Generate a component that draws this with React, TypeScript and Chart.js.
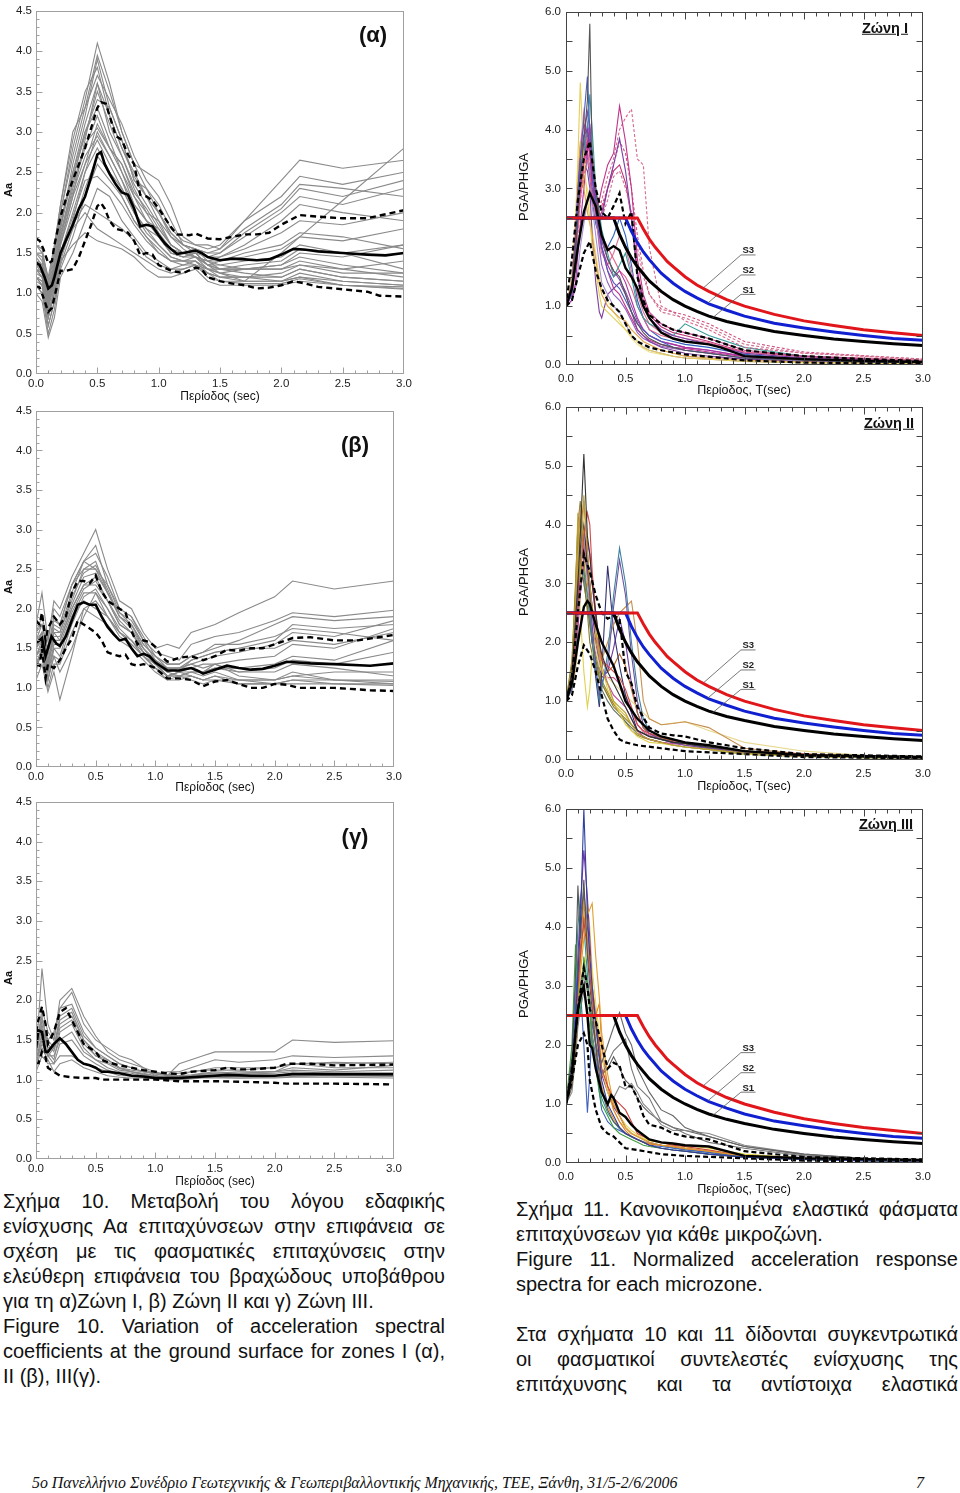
import React, { useEffect, useRef } from "react";
import { Chart, registerables } from "chart.js";

Chart.register(...registerables);

type Pt = [number, number];

// ---------- shared x grids ----------
const XG = [0, 0.05, 0.1, 0.15, 0.2, 0.3, 0.4, 0.5, 0.6, 0.7, 0.8, 0.9, 1.0, 1.1, 1.2, 1.3, 1.4, 1.5, 1.7, 2.0, 2.15, 2.5, 3.0];
const XR = [0, 0.05, 0.08, 0.1, 0.12, 0.15, 0.18, 0.2, 0.22, 0.25, 0.28, 0.3, 0.35, 0.4, 0.45, 0.5, 0.55, 0.6, 0.65, 0.7, 0.8, 0.9, 1.0, 1.2, 1.5, 2.0, 2.5, 3.0];

const X_TICKS = [0, 0.5, 1.0, 1.5, 2.0, 2.5, 3.0];
const AA_TICKS = [0, 0.5, 1.0, 1.5, 2.0, 2.5, 3.0, 3.5, 4.0, 4.5];
const PGA_TICKS = [0, 1.0, 2.0, 3.0, 4.0, 5.0, 6.0];

// ---------- (α) Zone I amplification ----------
const alphaMean: Pt[] = [[0,1.38],[0.03,1.35],[0.07,1.2],[0.1,1.06],[0.13,1.1],[0.15,1.2],[0.2,1.5],[0.25,1.68],[0.3,1.85],[0.35,2.05],[0.4,2.2],[0.45,2.45],[0.5,2.72],[0.53,2.75],[0.56,2.6],[0.6,2.48],[0.65,2.35],[0.7,2.25],[0.75,2.22],[0.8,2.05],[0.85,1.83],[0.9,1.85],[0.95,1.83],[1.0,1.72],[1.05,1.62],[1.1,1.55],[1.15,1.49],[1.2,1.5],[1.3,1.53],[1.35,1.5],[1.4,1.45],[1.5,1.41],[1.6,1.43],[1.7,1.42],[1.8,1.41],[1.9,1.42],[2.0,1.48],[2.1,1.55],[2.2,1.54],[2.3,1.52],[2.5,1.5],[2.7,1.48],[2.85,1.47],[3.0,1.5]];
const alphaUpper: Pt[] = [[0,1.68],[0.03,1.65],[0.06,1.55],[0.1,1.37],[0.13,1.4],[0.15,1.6],[0.2,1.95],[0.25,2.2],[0.3,2.4],[0.35,2.6],[0.4,2.8],[0.45,3.05],[0.5,3.3],[0.53,3.37],[0.57,3.35],[0.6,3.2],[0.65,2.95],[0.7,2.9],[0.75,2.72],[0.8,2.6],[0.85,2.22],[0.9,2.2],[0.95,2.15],[1.0,2.05],[1.1,1.82],[1.15,1.73],[1.25,1.72],[1.3,1.74],[1.4,1.68],[1.5,1.67],[1.6,1.7],[1.7,1.73],[1.8,1.73],[1.9,1.75],[2.0,1.85],[2.1,1.93],[2.15,1.97],[2.3,1.95],[2.5,1.93],[2.7,1.93],[2.85,1.98],[3.0,2.03]];
const alphaLower: Pt[] = [[0,1.1],[0.03,1.07],[0.06,0.95],[0.1,0.77],[0.13,0.82],[0.15,0.95],[0.2,1.28],[0.25,1.28],[0.3,1.3],[0.35,1.45],[0.4,1.65],[0.45,1.85],[0.5,2.08],[0.53,2.12],[0.56,2.05],[0.6,1.9],[0.65,1.8],[0.7,1.78],[0.75,1.75],[0.8,1.65],[0.85,1.47],[0.9,1.5],[0.95,1.48],[1.0,1.35],[1.1,1.28],[1.2,1.25],[1.3,1.32],[1.35,1.3],[1.4,1.2],[1.5,1.15],[1.6,1.12],[1.7,1.1],[1.8,1.06],[1.9,1.07],[2.0,1.1],[2.1,1.15],[2.2,1.12],[2.3,1.08],[2.5,1.05],[2.7,1.02],[2.8,0.97],[3.0,0.96]];
const alphaRecords: number[][] = [
  [1.6,1.5,1.1,1.5,2.0,2.8,3.4,4.1,3.6,3.0,2.6,2.5,2.4,2.1,1.7,1.6,1.6,1.55,1.9,2.4,2.65,2.55,2.65],
  [1.4,1.3,0.9,1.3,1.8,2.6,3.2,3.9,3.3,2.9,2.4,2.3,2.1,1.8,1.65,1.6,1.55,1.6,1.9,2.2,2.45,2.35,2.5],
  [1.3,1.2,0.7,1.1,1.6,2.2,2.9,3.6,3.0,2.7,2.3,2.0,1.9,1.7,1.6,1.55,1.5,1.5,1.7,2.0,2.2,2.1,2.3],
  [1.5,1.4,1.0,1.4,1.9,2.5,3.0,3.3,2.9,2.5,2.2,1.9,1.8,1.6,1.5,1.55,1.4,1.45,1.55,1.75,1.9,1.85,2.0],
  [1.2,1.1,0.6,0.9,1.4,1.9,2.5,3.0,2.7,2.4,2.0,1.8,1.7,1.5,1.45,1.5,1.35,1.4,1.45,1.55,1.7,1.65,1.8],
  [1.1,1.0,0.5,0.8,1.3,1.7,2.2,2.6,2.4,2.2,1.9,1.7,1.5,1.4,1.4,1.45,1.3,1.3,1.3,1.35,1.5,1.45,1.6],
  [1.0,0.9,0.45,0.7,1.2,1.5,1.9,2.3,2.2,1.9,1.7,1.5,1.4,1.3,1.35,1.35,1.25,1.2,1.2,1.25,1.35,1.3,1.4],
  [1.3,1.2,0.8,1.2,1.7,2.3,2.8,3.2,2.8,2.6,2.2,2.0,1.75,1.55,1.5,1.5,1.35,1.3,1.25,1.2,1.3,1.2,1.15],
  [1.4,1.3,0.9,1.3,1.5,1.8,2.0,1.8,1.7,1.6,1.5,1.4,1.3,1.25,1.3,1.35,1.2,1.15,1.15,1.15,1.2,1.15,1.1],
  [1.2,1.1,0.7,1.0,1.4,1.6,1.75,1.65,1.6,1.55,1.45,1.3,1.2,1.2,1.25,1.3,1.15,1.1,1.1,1.1,1.15,1.1,1.05],
  [1.5,1.5,1.2,1.6,2.1,2.9,3.5,3.8,3.2,2.8,2.5,2.2,1.9,1.6,1.5,1.45,1.4,1.3,1.35,1.4,1.55,1.5,1.3],
  [1.3,1.25,0.9,1.2,1.7,2.4,3.0,3.4,3.3,2.9,2.4,2.2,2.0,1.7,1.55,1.45,1.35,1.25,1.3,1.3,1.4,1.3,1.2],
  [1.35,1.25,0.85,1.25,1.65,2.2,2.6,2.9,2.6,2.3,2.0,1.8,1.6,1.45,1.4,1.35,1.3,1.25,1.15,1.5,1.7,2.15,2.8],
  [1.2,1.15,0.85,1.1,1.5,2.0,2.5,2.8,2.5,2.2,1.9,1.7,1.55,1.4,1.35,1.4,1.3,1.2,1.2,1.15,1.25,1.15,1.1],
  [1.5,1.45,1.05,1.45,2.0,2.7,3.3,3.7,3.4,3.1,2.7,2.4,2.2,1.9,1.6,1.5,1.45,1.5,1.75,2.05,2.3,2.2,2.4],
  [1.6,1.55,1.15,1.55,2.1,3.0,3.3,3.95,3.5,3.0,2.6,2.3,2.0,1.75,1.6,1.55,1.5,1.55,1.8,2.1,2.35,2.3,2.2],
  [1.25,1.2,0.8,1.15,1.6,2.1,2.6,3.1,2.8,2.5,2.1,1.9,1.7,1.5,1.45,1.5,1.35,1.35,1.4,1.45,1.6,1.5,1.6],
  [1.45,1.35,0.95,1.35,1.85,2.45,2.95,3.5,3.1,2.7,2.35,2.1,1.85,1.6,1.5,1.45,1.4,1.35,1.3,1.3,1.35,1.25,1.25],
  [1.1,1.0,0.6,0.9,1.35,1.8,2.3,2.7,2.5,2.3,2.0,1.75,1.6,1.45,1.4,1.4,1.3,1.25,1.2,1.2,1.3,1.2,1.15],
  [1.35,1.3,0.95,1.3,1.75,2.35,2.85,3.05,2.8,2.6,2.25,2.05,1.8,1.6,1.5,1.45,1.4,1.4,1.5,1.6,1.75,1.7,1.55],
  [1.2,1.15,0.75,1.05,1.5,1.95,2.4,2.45,2.3,2.1,1.85,1.65,1.5,1.4,1.4,1.4,1.25,1.2,1.15,1.15,1.2,1.1,1.08],
  [1.4,1.35,1.0,1.35,1.8,2.5,3.1,3.6,3.2,2.8,2.45,2.2,2.0,1.75,1.6,1.55,1.45,1.45,1.6,1.9,2.1,2.0,1.9],
  [1.3,1.25,0.9,1.25,1.7,2.25,2.7,2.95,2.7,2.4,2.1,1.9,1.7,1.5,1.45,1.45,1.35,1.3,1.3,1.35,1.45,1.35,1.25],
  [1.15,1.1,0.7,1.0,1.45,1.85,2.1,2.0,1.9,1.8,1.65,1.45,1.35,1.3,1.3,1.35,1.25,1.15,1.12,1.12,1.18,1.1,1.06],
];

// ---------- (β) Zone II amplification ----------
const betaMean: Pt[] = [[0,1.57],[0.03,1.6],[0.05,1.63],[0.08,1.4],[0.1,1.5],[0.13,1.65],[0.17,1.56],[0.2,1.53],[0.25,1.65],[0.3,1.85],[0.35,2.05],[0.4,2.08],[0.45,2.05],[0.5,2.05],[0.55,1.9],[0.6,1.77],[0.65,1.68],[0.7,1.6],[0.75,1.62],[0.8,1.5],[0.85,1.4],[0.9,1.43],[0.95,1.4],[1.0,1.32],[1.05,1.27],[1.1,1.22],[1.2,1.22],[1.3,1.25],[1.35,1.22],[1.4,1.18],[1.5,1.23],[1.6,1.28],[1.7,1.25],[1.8,1.23],[1.9,1.24],[2.0,1.28],[2.1,1.33],[2.3,1.31],[2.5,1.3],[2.8,1.28],[3.0,1.31]];
const betaUpper: Pt[] = [[0,1.85],[0.03,1.8],[0.05,1.95],[0.08,1.6],[0.1,1.75],[0.15,1.9],[0.2,1.8],[0.25,1.9],[0.3,2.2],[0.35,2.35],[0.4,2.35],[0.45,2.32],[0.5,2.42],[0.55,2.22],[0.6,2.1],[0.65,2.05],[0.7,2.0],[0.75,1.95],[0.8,1.72],[0.85,1.55],[0.9,1.6],[0.95,1.58],[1.0,1.52],[1.05,1.4],[1.1,1.33],[1.2,1.38],[1.3,1.4],[1.4,1.35],[1.5,1.4],[1.6,1.48],[1.7,1.47],[1.8,1.5],[1.9,1.5],[2.0,1.55],[2.15,1.63],[2.3,1.64],[2.5,1.6],[2.7,1.6],[3.0,1.67]];
const betaLower: Pt[] = [[0,1.3],[0.03,1.28],[0.05,1.5],[0.08,1.12],[0.1,1.3],[0.15,1.25],[0.2,1.35],[0.25,1.5],[0.3,1.62],[0.35,1.85],[0.4,1.8],[0.45,1.75],[0.5,1.7],[0.55,1.6],[0.6,1.45],[0.65,1.42],[0.7,1.4],[0.75,1.42],[0.8,1.3],[0.85,1.28],[0.9,1.3],[0.95,1.28],[1.0,1.25],[1.1,1.12],[1.2,1.12],[1.3,1.1],[1.4,1.02],[1.5,1.08],[1.6,1.1],[1.7,1.05],[1.8,1.0],[1.9,1.0],[2.0,1.05],[2.1,1.04],[2.2,1.0],[2.5,1.0],[2.8,0.97],[3.0,0.96]];
const betaRecords: number[][] = [
  [1.7,1.9,1.6,2.1,2.0,2.4,2.7,3.0,2.5,2.1,2.0,1.7,1.5,1.55,1.5,1.7,1.75,1.8,1.95,2.15,2.35,2.25,2.35],
  [1.6,1.8,1.5,1.9,1.8,2.3,2.6,2.7,2.4,2.0,1.9,1.6,1.45,1.4,1.35,1.55,1.6,1.65,1.7,1.85,1.95,1.9,1.98],
  [1.5,1.7,1.2,1.7,1.7,2.1,2.5,2.5,2.2,1.9,1.8,1.55,1.4,1.3,1.3,1.4,1.45,1.5,1.6,1.8,1.9,1.85,1.9],
  [1.4,1.6,1.3,1.6,1.6,2.0,2.3,2.4,2.1,1.8,1.7,1.5,1.35,1.25,1.25,1.3,1.35,1.4,1.45,1.55,1.7,1.65,1.85],
  [1.3,1.5,1.1,1.5,1.4,1.9,2.2,2.2,2.0,1.7,1.6,1.45,1.3,1.2,1.25,1.25,1.3,1.3,1.35,1.4,1.55,1.5,1.75],
  [1.1,1.3,0.95,1.2,0.85,1.4,2.0,2.1,1.9,1.65,1.55,1.4,1.25,1.15,1.2,1.2,1.2,1.25,1.25,1.3,1.4,1.35,1.6],
  [1.6,1.7,1.4,1.8,1.75,2.2,2.6,2.5,2.3,1.95,1.85,1.6,1.35,1.2,1.15,1.2,1.15,1.2,1.1,1.1,1.15,1.2,1.2],
  [1.5,1.6,1.3,1.7,1.6,2.0,2.3,2.3,2.1,1.8,1.7,1.45,1.3,1.15,1.2,1.15,1.1,1.15,1.05,1.05,1.1,1.1,1.05],
  [1.4,1.5,1.2,1.5,1.5,1.9,2.1,2.0,1.9,1.7,1.55,1.4,1.25,1.1,1.15,1.1,1.05,1.1,1.05,1.05,1.05,1.05,1.03],
  [1.8,2.2,1.6,2.0,1.9,2.3,2.5,2.6,2.2,1.9,1.75,1.5,1.3,1.15,1.2,1.25,1.2,1.3,1.15,1.1,1.2,1.1,1.1],
  [1.3,1.4,1.0,1.3,1.3,1.7,2.0,1.9,1.8,1.6,1.5,1.35,1.2,1.1,1.1,1.15,1.1,1.1,1.1,1.05,1.1,1.05,1.05],
  [1.2,1.5,1.1,1.4,1.2,1.5,1.9,2.2,1.9,1.7,1.6,1.4,1.3,1.25,1.2,1.35,1.4,1.45,1.5,1.5,1.6,1.55,1.7],
  [1.5,1.65,1.3,1.75,1.7,2.15,2.45,2.55,2.25,1.9,1.8,1.5,1.35,1.25,1.25,1.35,1.4,1.45,1.5,1.6,1.8,1.75,1.8],
  [1.4,1.55,1.2,1.55,1.55,1.95,2.25,2.35,2.1,1.85,1.7,1.45,1.3,1.15,1.15,1.2,1.2,1.25,1.2,1.25,1.35,1.3,1.45],
  [1.7,1.8,1.45,1.85,1.8,2.3,2.6,2.8,2.3,2.0,1.9,1.65,1.4,1.25,1.25,1.3,1.25,1.3,1.2,1.2,1.3,1.25,1.15],
  [1.3,1.45,1.1,1.4,1.35,1.8,2.15,2.25,2.0,1.75,1.6,1.4,1.25,1.15,1.15,1.15,1.1,1.15,1.1,1.1,1.15,1.1,1.08],
  [1.55,1.7,1.35,1.65,1.65,2.05,2.4,2.45,2.2,1.95,1.8,1.55,1.4,1.3,1.3,1.4,1.45,1.55,1.55,1.65,1.75,1.7,1.6],
];

// ---------- (γ) Zone III amplification ----------
const gammaMean: Pt[] = [[0,1.4],[0.02,1.62],[0.05,1.6],[0.08,1.35],[0.1,1.35],[0.15,1.45],[0.2,1.52],[0.25,1.45],[0.3,1.35],[0.35,1.25],[0.4,1.2],[0.45,1.18],[0.5,1.15],[0.55,1.1],[0.6,1.1],[0.7,1.08],[0.8,1.05],[0.9,1.04],[1.0,1.02],[1.2,1.02],[1.5,1.05],[1.6,1.06],[1.8,1.05],[2.0,1.05],[2.15,1.07],[2.5,1.07],[3.0,1.07]];
const gammaUpper: Pt[] = [[0,1.6],[0.02,1.75],[0.05,1.92],[0.08,1.7],[0.1,1.45],[0.15,1.6],[0.2,1.85],[0.25,1.9],[0.3,1.75],[0.35,1.6],[0.4,1.45],[0.45,1.4],[0.5,1.35],[0.55,1.25],[0.6,1.22],[0.7,1.18],[0.8,1.15],[0.9,1.12],[1.0,1.1],[1.1,1.08],[1.2,1.07],[1.3,1.1],[1.5,1.12],[1.6,1.15],[1.7,1.13],[1.8,1.13],[2.0,1.15],[2.1,1.2],[2.3,1.2],[2.5,1.18],[3.0,1.19]];
const gammaLower: Pt[] = [[0,1.2],[0.02,1.2],[0.05,1.35],[0.08,1.28],[0.1,1.15],[0.15,1.1],[0.2,1.05],[0.3,1.03],[0.4,1.02],[0.5,1.02],[0.55,1.0],[0.6,1.0],[0.8,1.0],[1.0,1.0],[1.2,0.98],[1.5,0.98],[1.8,0.97],[2.0,0.96],[2.1,0.95],[2.5,0.95],[3.0,0.94]];
const gammaRecords: number[][] = [
  [1.3,2.4,1.7,1.5,1.9,2.1,1.7,1.5,1.4,1.3,1.25,1.15,1.1,1.05,1.2,1.25,1.3,1.35,1.35,1.35,1.5,1.47,1.49],
  [1.3,1.9,1.6,1.5,2.0,2.15,1.8,1.55,1.35,1.25,1.2,1.15,1.05,1.1,1.1,1.15,1.2,1.25,1.22,1.25,1.3,1.28,1.3],
  [1.2,1.6,1.5,1.6,1.9,1.95,1.6,1.4,1.3,1.2,1.15,1.1,1.1,1.05,1.05,1.1,1.12,1.15,1.15,1.15,1.2,1.22,1.2],
  [1.4,1.8,1.4,1.4,1.7,1.8,1.5,1.3,1.25,1.15,1.1,1.08,1.05,1.02,1.03,1.05,1.08,1.08,1.1,1.1,1.15,1.12,1.18],
  [1.2,1.5,1.3,1.3,1.5,1.6,1.35,1.25,1.15,1.1,1.08,1.05,1.03,1.02,1.02,1.03,1.05,1.05,1.05,1.05,1.08,1.05,1.05],
  [1.1,1.3,1.2,1.2,1.3,1.3,1.2,1.15,1.1,1.05,1.05,1.03,1.02,1.0,1.0,1.02,1.03,1.03,1.02,1.02,1.03,1.03,1.02],
  [1.3,1.7,1.35,1.25,1.6,1.7,1.4,1.25,1.2,1.12,1.1,1.06,1.04,1.02,1.03,1.04,1.06,1.06,1.07,1.08,1.1,1.08,1.08],
  [1.15,1.4,1.25,1.1,1.2,1.25,1.15,1.1,1.05,1.03,1.02,1.02,1.01,1.0,1.0,1.01,1.02,1.02,1.02,1.03,1.04,1.05,1.04],
  [1.25,1.55,1.3,1.4,1.75,1.85,1.5,1.35,1.25,1.15,1.12,1.1,1.07,1.05,1.05,1.06,1.08,1.1,1.08,1.1,1.12,1.1,1.12],
  [1.35,1.65,1.45,1.35,1.65,1.75,1.45,1.3,1.22,1.14,1.1,1.07,1.05,1.04,1.04,1.05,1.07,1.08,1.08,1.1,1.2,1.2,1.22],
  [1.2,1.45,1.3,1.2,1.45,1.5,1.3,1.2,1.12,1.08,1.06,1.04,1.03,1.02,1.02,1.03,1.04,1.04,1.04,1.05,1.06,1.06,1.05],
  [1.3,1.75,1.5,1.4,1.8,1.9,1.55,1.4,1.3,1.2,1.15,1.1,1.08,1.06,1.08,1.1,1.12,1.12,1.12,1.15,1.2,1.15,1.15],
];

// ---------- design spectra (S1, S2, S3) ----------
const S3_T = [0, 0.6, 0.65, 0.7, 0.75, 0.8, 0.85, 0.9, 1.0, 1.1, 1.2, 1.35, 1.5, 1.75, 2.0, 2.25, 2.5, 2.75, 3.0];
const S3_V = [2.5, 2.5, 2.31, 2.14, 2.0, 1.88, 1.76, 1.67, 1.5, 1.36, 1.25, 1.11, 1.0, 0.86, 0.75, 0.67, 0.6, 0.55, 0.5];
const S2_T = [0, 0.5, 0.55, 0.6, 0.65, 0.7, 0.8, 0.9, 1.0, 1.1, 1.2, 1.35, 1.5, 1.75, 2.0, 2.25, 2.5, 2.75, 3.0];
const S2_V = [2.5, 2.5, 2.27, 2.08, 1.92, 1.79, 1.56, 1.39, 1.25, 1.14, 1.04, 0.93, 0.83, 0.71, 0.63, 0.56, 0.5, 0.45, 0.42];
const S1_T = [0, 0.4, 0.45, 0.5, 0.55, 0.6, 0.7, 0.8, 0.9, 1.0, 1.1, 1.2, 1.35, 1.5, 1.75, 2.0, 2.25, 2.5, 2.75, 3.0];
const S1_V = [2.5, 2.5, 2.22, 2.0, 1.82, 1.67, 1.43, 1.25, 1.11, 1.0, 0.91, 0.83, 0.74, 0.67, 0.57, 0.5, 0.44, 0.4, 0.36, 0.33];
const S_NAMES = ["S3", "S2", "S1"];
const S_LABEL_T = 1.47;
const S_LABEL_V = [1.87, 1.53, 1.2];
const S_LEADER_END: Pt[] = [[1.16, 1.32], [1.19, 1.05], [1.23, 0.8]];

// ---------- Zone I normalized spectra ----------
const z1Mean: Pt[] = [[0,1.0],[0.05,1.3],[0.1,2.0],[0.15,2.6],[0.2,2.92],[0.25,2.7],[0.3,2.2],[0.35,1.95],[0.4,2.02],[0.45,1.95],[0.5,1.65],[0.55,1.5],[0.6,1.3],[0.65,1.0],[0.7,0.8],[0.8,0.55],[0.9,0.45],[1.0,0.4],[1.2,0.35],[1.3,0.3],[1.5,0.15],[2.0,0.1],[2.5,0.07],[3.0,0.05]];
const z1Upper: Pt[] = [[0,1.0],[0.05,1.8],[0.1,2.8],[0.15,3.5],[0.2,3.8],[0.25,3.0],[0.3,2.6],[0.35,2.5],[0.4,2.7],[0.45,2.92],[0.5,2.4],[0.55,2.6],[0.6,1.5],[0.65,1.1],[0.7,0.85],[0.8,0.7],[0.9,0.6],[1.0,0.55],[1.2,0.45],[1.5,0.25],[2.0,0.15],[2.5,0.1],[3.0,0.07]];
const z1Lower: Pt[] = [[0,1.0],[0.05,1.1],[0.1,1.5],[0.15,1.9],[0.2,2.1],[0.25,1.6],[0.3,1.3],[0.35,1.1],[0.4,1.0],[0.45,0.9],[0.5,0.7],[0.55,0.5],[0.6,0.4],[0.7,0.3],[0.8,0.25],[1.0,0.18],[1.5,0.08],[2.0,0.04],[3.0,0.02]];
const z1Records: number[][] = [
  [1.0,1.3,2.0,2.5,3.2,3.8,4.5,5.8,3.5,3.0,2.5,2.2,1.8,1.6,1.5,1.2,0.9,0.7,0.55,0.45,0.35,0.3,0.25,0.2,0.12,0.08,0.05,0.04],
  [1.0,1.2,1.8,2.8,3.5,4.2,4.9,4.0,3.2,2.6,2.2,2.0,1.6,1.4,1.3,1.1,0.9,0.7,0.6,0.5,0.4,0.3,0.25,0.2,0.12,0.08,0.05,0.04],
  [1.0,1.3,2.0,2.6,3.0,3.5,3.8,3.6,3.0,2.6,2.8,3.0,3.4,3.6,4.4,3.8,3.0,1.8,1.2,0.9,0.7,0.6,0.55,0.45,0.25,0.15,0.1,0.06],
  [1.0,1.2,1.6,2.2,2.8,3.2,3.5,3.3,2.8,2.5,2.6,2.8,3.2,3.5,4.0,4.2,4.35,3.5,3.4,2.0,1.0,0.9,0.75,0.6,0.3,0.2,0.15,0.08],
  [1.0,1.4,2.2,3.0,3.5,3.9,4.0,3.7,3.2,2.8,2.6,2.5,3.0,3.4,3.85,3.3,2.5,1.5,1.0,0.8,0.6,0.5,0.45,0.35,0.2,0.12,0.08,0.05],
  [1.0,1.5,2.5,3.5,4.8,3.5,2.8,2.5,2.0,1.6,1.2,1.0,0.9,0.8,0.7,0.6,0.5,0.4,0.3,0.25,0.2,0.15,0.12,0.1,0.06,0.04,0.03,0.02],
  [1.0,1.4,2.4,3.2,3.8,3.0,2.6,2.4,2.2,1.8,1.4,1.2,1.0,0.9,0.8,0.75,0.6,0.5,0.4,0.35,0.25,0.2,0.15,0.12,0.08,0.05,0.04,0.03],
  [1.0,1.3,2.0,2.6,3.1,3.6,4.0,4.6,4.0,3.0,2.6,2.3,1.9,1.5,1.7,1.9,1.5,1.0,0.8,0.7,0.6,0.5,0.7,0.5,0.3,0.15,0.1,0.06],
  [1.0,1.1,1.4,1.9,2.4,3.0,3.6,4.1,3.5,2.8,2.3,2.0,1.7,1.5,1.6,1.4,1.1,0.8,0.6,0.5,0.4,0.35,0.3,0.25,0.15,0.1,0.06,0.05],
  [1.0,1.2,1.7,2.3,2.8,3.3,3.8,4.0,3.6,3.0,2.5,2.2,2.0,1.8,1.6,1.5,1.3,1.0,0.8,0.6,0.5,0.45,0.4,0.35,0.22,0.15,0.12,0.08],
  [1.0,1.1,1.3,1.6,2.0,2.4,2.8,3.0,2.7,2.2,1.7,1.4,1.2,1.0,0.9,0.7,0.5,0.4,0.3,0.25,0.2,0.15,0.12,0.1,0.06,0.04,0.03,0.02],
  [1.0,1.3,1.9,2.5,3.0,3.4,3.3,3.0,2.2,1.4,0.9,0.8,1.2,1.3,1.4,1.2,0.9,0.6,0.5,0.4,0.3,0.25,0.2,0.15,0.1,0.06,0.04,0.03],
  [1.0,1.2,1.8,2.4,2.9,3.3,3.6,3.4,3.0,2.6,2.4,2.5,2.8,3.2,3.3,3.0,2.6,2.0,1.5,1.2,0.9,0.85,0.8,0.65,0.35,0.2,0.15,0.1],
  [1.0,1.3,2.1,2.9,3.6,4.1,3.9,3.6,3.2,2.7,2.3,2.0,1.6,1.3,1.2,1.0,0.8,0.6,0.5,0.42,0.35,0.3,0.28,0.22,0.14,0.09,0.06,0.04],
  [1.0,1.2,1.9,2.7,3.3,3.9,4.3,4.0,3.4,2.9,2.4,2.1,1.8,1.6,1.45,1.25,1.0,0.75,0.6,0.5,0.4,0.35,0.3,0.25,0.15,0.1,0.06,0.05],
  [1.0,1.4,2.3,3.1,3.7,4.3,3.7,3.3,2.9,2.5,2.1,1.9,1.7,1.9,2.2,2.0,1.6,1.2,0.9,0.7,0.55,0.5,0.45,0.38,0.2,0.12,0.08,0.06],
  [1.0,1.3,2.0,2.7,3.2,3.7,4.1,3.9,3.3,2.6,2.0,1.7,1.4,1.2,1.1,0.95,0.75,0.55,0.45,0.4,0.32,0.28,0.25,0.2,0.12,0.08,0.05,0.04],
  [1.0,1.2,1.7,2.4,3.0,3.6,4.0,3.8,3.3,2.8,2.5,2.6,3.0,3.3,3.4,3.1,2.5,1.6,1.1,0.85,0.65,0.55,0.5,0.4,0.22,0.14,0.1,0.06],
  [1.0,1.3,2.0,2.6,3.1,3.2,3.0,2.7,2.3,1.9,1.5,1.3,1.1,0.9,0.75,0.6,0.45,0.35,0.28,0.22,0.18,0.15,0.12,0.1,0.06,0.04,0.03,0.02],
  [1.0,1.3,2.2,2.9,3.4,3.8,3.5,3.2,2.8,2.4,2.2,2.1,2.0,2.2,2.5,2.2,1.7,1.1,0.8,0.6,0.45,0.4,0.35,0.3,0.18,0.1,0.07,0.05],
  [1.0,1.3,2.0,2.6,3.1,3.5,3.8,3.6,3.2,2.8,2.6,2.7,3.0,3.4,3.8,3.6,3.0,2.2,1.6,1.2,0.95,0.9,0.85,0.7,0.4,0.22,0.16,0.1],
];
const z1Colors = ["#555555", "#4a5fc1", "#c2338a", "#d66a8e", "#7a3fa6", "#e3cf5a", "#e0a040", "#3a9a9a", "#b02fa0", "#e0608a", "#a88fd0", "#8040a0", "#d07090", "#c0308a", "#7d48b0", "#e07098", "#9060c0", "#c03078", "#efe28a", "#3060c0", "#d05080"];
const z1Dashed = [false, false, false, true, false, false, false, false, false, false, false, false, true, false, false, false, false, false, false, false, true];

// ---------- Zone II normalized spectra ----------
const z2Mean: Pt[] = [[0,1.0],[0.05,1.3],[0.1,2.0],[0.15,2.6],[0.18,2.7],[0.2,2.65],[0.25,2.3],[0.3,2.0],[0.35,1.8],[0.4,1.6],[0.45,1.3],[0.5,1.0],[0.55,0.85],[0.6,0.7],[0.7,0.5],[0.8,0.4],[0.9,0.35],[1.0,0.3],[1.2,0.25],[1.5,0.15],[2.0,0.08],[3.0,0.05]];
const z2Upper: Pt[] = [[0,1.0],[0.05,1.4],[0.1,2.5],[0.15,3.5],[0.2,3.2],[0.25,2.8],[0.3,2.5],[0.35,2.4],[0.4,2.45],[0.45,2.4],[0.5,1.5],[0.55,1.3],[0.6,0.9],[0.7,0.55],[0.8,0.45],[0.9,0.42],[1.0,0.4],[1.2,0.3],[1.5,0.2],[2.0,0.1],[3.0,0.06]];
const z2Lower: Pt[] = [[0,1.0],[0.05,1.1],[0.1,1.6],[0.15,1.95],[0.2,1.8],[0.25,1.5],[0.3,1.1],[0.35,0.7],[0.4,0.5],[0.45,0.35],[0.5,0.3],[0.6,0.25],[0.8,0.2],[1.0,0.15],[1.5,0.1],[2.0,0.05],[3.0,0.03]];
const z2Records: number[][] = [
  [1.0,1.5,2.4,3.0,3.8,5.2,3.8,3.5,3.0,2.5,2.0,1.8,1.5,1.3,1.1,0.9,0.7,0.5,0.45,0.4,0.35,0.3,0.28,0.22,0.15,0.08,0.05,0.04],
  [1.0,1.6,2.8,4.2,3.0,4.5,3.5,3.0,2.6,2.2,1.8,1.5,1.3,1.0,0.9,0.8,0.6,0.45,0.4,0.35,0.3,0.25,0.22,0.18,0.12,0.07,0.05,0.03],
  [1.0,1.3,2.0,2.6,3.2,3.8,4.2,4.0,3.2,2.5,2.0,1.7,1.6,1.5,1.4,1.2,0.9,0.6,0.5,0.45,0.4,0.35,0.3,0.25,0.15,0.1,0.06,0.04],
  [1.0,1.2,1.8,2.5,3.0,3.2,2.8,2.5,2.0,1.5,1.0,1.2,1.8,2.8,3.6,3.0,2.0,1.2,0.7,0.5,0.4,0.35,0.3,0.25,0.15,0.08,0.05,0.03],
  [1.0,1.3,2.2,2.8,3.4,3.6,3.2,2.8,2.3,1.6,1.1,1.3,1.6,2.6,3.4,2.8,1.8,1.0,0.6,0.45,0.35,0.3,0.25,0.2,0.12,0.07,0.05,0.03],
  [1.0,1.4,2.5,3.5,4.3,3.8,3.0,2.6,2.2,2.0,1.8,1.7,2.0,2.3,2.5,2.6,2.7,2.0,1.0,0.7,0.6,0.62,0.65,0.55,0.2,0.1,0.07,0.05],
  [1.0,1.5,2.6,3.5,2.5,1.5,0.9,1.2,1.8,2.2,2.0,1.6,1.2,1.0,0.8,0.6,0.5,0.4,0.35,0.3,0.28,0.25,0.22,0.18,0.1,0.06,0.04,0.03],
  [1.0,1.3,2.0,2.8,3.6,4.0,3.3,2.8,2.0,1.4,0.9,1.5,3.3,2.2,1.6,1.1,0.8,0.5,0.45,0.4,0.35,0.3,0.28,0.2,0.12,0.07,0.05,0.03],
  [1.0,1.2,1.7,2.2,2.8,3.4,3.7,3.5,3.0,2.4,1.9,1.6,1.3,1.1,1.0,0.9,0.7,0.5,0.4,0.35,0.3,0.28,0.25,0.2,0.12,0.07,0.05,0.03],
  [1.0,1.7,3.0,4.0,4.4,3.2,2.5,2.0,1.8,1.6,1.4,1.3,1.1,0.9,0.8,0.7,0.6,0.5,0.45,0.4,0.35,0.3,0.28,0.22,0.15,0.1,0.07,0.06],
  [1.0,1.2,1.5,1.9,2.3,2.6,2.8,2.6,2.2,1.9,1.6,1.5,1.4,1.3,1.2,1.1,1.0,0.9,0.8,0.7,0.6,0.63,0.65,0.5,0.3,0.15,0.08,0.05],
  [1.0,1.4,2.2,3.0,3.4,3.0,2.6,2.3,2.0,1.7,1.4,1.2,1.0,0.85,0.75,0.65,0.55,0.45,0.4,0.35,0.3,0.25,0.22,0.18,0.1,0.06,0.04,0.03],
  [1.0,1.5,2.7,3.8,4.1,3.4,2.8,2.4,2.1,1.8,1.5,1.35,1.15,0.95,0.8,0.65,0.5,0.42,0.38,0.35,0.3,0.26,0.22,0.18,0.1,0.06,0.04,0.03],
  [1.0,1.4,2.4,3.2,3.9,4.4,3.6,3.0,2.6,2.2,1.9,1.7,1.5,1.6,1.8,1.6,1.2,0.8,0.55,0.45,0.38,0.32,0.28,0.22,0.13,0.08,0.05,0.04],
  [1.0,1.3,2.1,2.9,3.5,3.9,3.4,3.0,2.5,2.0,1.6,1.4,1.5,1.9,2.4,2.0,1.3,0.8,0.55,0.45,0.38,0.33,0.3,0.24,0.14,0.08,0.05,0.04],
  [1.0,1.6,2.9,4.0,3.6,3.0,2.6,2.3,2.0,1.7,1.5,1.3,1.1,0.95,0.85,0.75,0.6,0.5,0.45,0.4,0.35,0.3,0.27,0.2,0.12,0.07,0.05,0.04],
  [1.0,1.3,2.0,2.7,3.3,3.7,3.4,3.0,2.6,2.1,1.7,1.5,1.4,1.4,1.3,1.1,0.85,0.6,0.48,0.42,0.36,0.32,0.28,0.22,0.13,0.07,0.05,0.03],
];
const z2Colors = ["#333333", "#b8a030", "#d04848", "#4080a0", "#7050a0", "#c89050", "#e0d050", "#303070", "#c040a0", "#8a7a30", "#e8d890", "#607060", "#9a8a2a", "#b86b30", "#6a3aa0", "#d8c040", "#d05890"];

// ---------- Zone III normalized spectra ----------
const z3Mean: Pt[] = [[0,1.0],[0.05,1.5],[0.08,2.2],[0.1,2.6],[0.12,2.8],[0.15,3.0],[0.18,2.5],[0.2,2.0],[0.22,1.95],[0.25,1.6],[0.3,1.2],[0.35,1.0],[0.38,1.15],[0.4,1.1],[0.45,0.85],[0.5,0.78],[0.55,0.65],[0.6,0.55],[0.7,0.4],[0.8,0.35],[0.9,0.33],[1.0,0.3],[1.2,0.28],[1.5,0.12],[2.0,0.08],[3.0,0.05]];
const z3Upper: Pt[] = [[0,1.0],[0.05,1.6],[0.1,2.6],[0.15,3.3],[0.18,3.0],[0.2,2.6],[0.25,2.4],[0.3,2.0],[0.35,1.6],[0.4,1.7],[0.45,1.65],[0.5,1.3],[0.55,1.3],[0.6,1.1],[0.65,0.8],[0.7,0.65],[0.8,0.6],[0.9,0.5],[1.0,0.45],[1.2,0.4],[1.5,0.2],[2.0,0.1],[3.0,0.06]];
const z3Lower: Pt[] = [[0,1.0],[0.05,1.4],[0.1,2.0],[0.15,2.2],[0.18,2.0],[0.2,1.4],[0.25,0.9],[0.3,0.6],[0.35,0.5],[0.4,0.45],[0.45,0.35],[0.5,0.25],[0.6,0.22],[0.8,0.15],[1.0,0.12],[1.5,0.08],[2.0,0.04],[3.0,0.02]];
const z3Records: number[][] = [
  [1.0,1.6,2.4,3.2,4.0,6.0,4.2,3.5,3.0,2.4,1.8,1.4,1.0,0.8,0.6,0.5,0.45,0.4,0.35,0.3,0.25,0.22,0.2,0.15,0.1,0.06,0.04,0.03],
  [1.0,1.8,3.2,4.7,3.8,4.8,3.5,3.0,2.6,2.0,1.5,1.2,0.9,0.7,0.6,0.5,0.45,0.4,0.35,0.3,0.25,0.22,0.2,0.15,0.1,0.06,0.04,0.03],
  [1.0,1.4,2.0,2.6,3.2,3.8,4.2,4.3,4.4,3.5,2.8,2.2,1.5,1.0,0.8,0.6,0.5,0.45,0.4,0.35,0.3,0.28,0.25,0.2,0.12,0.08,0.05,0.04],
  [1.0,2.0,3.7,3.0,2.5,3.5,3.0,2.6,2.0,1.6,1.2,1.0,0.8,0.6,0.5,0.45,0.4,0.35,0.3,0.28,0.25,0.22,0.2,0.15,0.1,0.06,0.04,0.03],
  [1.0,1.3,2.0,2.6,3.0,3.4,3.0,2.8,2.4,2.0,1.8,1.7,2.0,2.3,2.55,2.2,2.0,1.6,1.4,1.2,0.9,0.8,0.6,0.45,0.28,0.15,0.08,0.05],
  [1.0,1.3,1.9,2.4,2.8,3.2,2.9,2.6,2.2,1.8,1.6,1.5,1.7,1.9,2.0,2.1,1.6,1.3,1.2,1.1,0.7,0.6,0.5,0.35,0.25,0.12,0.07,0.05],
  [1.0,1.5,2.3,3.0,3.5,4.1,3.6,3.2,2.8,2.4,2.0,1.6,1.3,1.1,1.0,0.9,0.7,0.5,0.45,0.4,0.35,0.3,0.28,0.22,0.12,0.07,0.05,0.03],
  [1.0,1.4,2.2,2.9,3.4,4.2,3.8,3.4,2.9,2.5,2.7,2.0,1.3,0.9,0.7,0.55,0.45,0.4,0.35,0.32,0.3,0.28,0.25,0.2,0.12,0.07,0.05,0.03],
  [1.0,1.5,2.6,3.4,3.0,2.0,0.85,1.5,2.4,2.0,1.2,0.9,0.7,0.6,0.55,0.5,0.45,0.4,0.35,0.3,0.28,0.25,0.22,0.18,0.1,0.06,0.04,0.03],
  [1.0,1.2,1.8,2.3,2.6,2.9,2.6,2.3,2.0,1.7,1.4,1.2,1.0,1.1,1.3,1.25,1.35,1.2,1.0,0.9,0.65,0.55,0.55,0.5,0.3,0.15,0.08,0.05],
  [1.0,1.3,1.8,2.4,2.9,3.3,3.6,3.5,3.0,2.5,2.0,1.6,1.2,0.9,0.7,0.6,0.5,0.45,0.4,0.38,0.35,0.32,0.3,0.25,0.15,0.08,0.05,0.04],
  [1.0,1.6,2.6,3.5,4.3,5.3,4.5,3.8,3.0,2.5,2.0,1.5,1.2,0.95,0.8,0.6,0.5,0.45,0.4,0.35,0.3,0.28,0.25,0.2,0.12,0.07,0.05,0.03],
  [1.0,1.5,2.4,3.2,3.8,4.4,3.8,3.3,2.7,2.1,1.6,1.3,0.95,0.75,0.6,0.5,0.45,0.4,0.36,0.33,0.3,0.27,0.24,0.2,0.12,0.07,0.05,0.03],
  [1.0,1.7,3.0,4.0,4.5,4.0,3.2,2.6,2.1,1.7,1.3,1.1,0.85,0.7,0.58,0.5,0.44,0.4,0.36,0.33,0.3,0.26,0.23,0.18,0.11,0.06,0.04,0.03],
  [1.0,1.4,2.3,3.0,3.6,4.6,4.0,3.5,2.9,2.3,1.8,1.5,1.6,1.8,1.6,1.4,1.3,1.1,0.95,0.85,0.7,0.6,0.55,0.45,0.28,0.14,0.08,0.05],
  [1.0,1.3,2.0,2.7,3.3,4.0,4.4,4.0,3.3,2.7,2.2,1.8,1.3,1.0,0.8,0.65,0.55,0.48,0.42,0.38,0.34,0.3,0.27,0.22,0.13,0.08,0.05,0.04],
];
const z3Colors = ["#3040a0", "#555555", "#e0a030", "#40a040", "#666666", "#777777", "#d04040", "#e08030", "#4060c0", "#888888", "#e0d040", "#8030a0", "#e09030", "#309090", "#606060", "#e8d850"];

// ---------- text ----------
const LEFT_LINES: [string, boolean][] = [
  ["Σχήμα 10. Μεταβολή του λόγου εδαφικής", true],
  ["ενίσχυσης Αα επιταχύνσεων στην επιφάνεια σε", true],
  ["σχέση με τις φασματικές επιταχύνσεις στην", true],
  ["ελεύθερη επιφάνεια του βραχώδους υποβάθρου", true],
  ["για τη α)Ζώνη Ι, β) Ζώνη ΙΙ και γ) Ζώνη ΙΙΙ.", false],
  ["Figure 10. Variation of acceleration spectral", true],
  ["coefficients at the ground surface for zones I (α),", true],
  ["II (β), III(γ).", false],
];
const RIGHT_LINES: [string, boolean, number][] = [
  ["Σχήμα 11. Κανονικοποιημένα ελαστικά φάσματα", true, 1209],
  ["επιταχύνσεων για κάθε μικροζώνη.", false, 1234],
  ["Figure 11. Normalized acceleration response", true, 1259],
  ["spectra for each microzone.", false, 1284],
  ["Στα σχήματα 10 και 11 δίδονται συγκεντρωτικά", true, 1334],
  ["οι φασματικοί συντελεστές ενίσχυσης της", true, 1359],
  ["επιτάχυνσης και τα αντίστοιχα ελαστικά", true, 1384],
];

// ---------- helpers ----------
const SANS = '"Liberation Sans", Arial, Helvetica, sans-serif';
const fromPairs = (p: Pt[]) => p.map(([x, y]) => ({ x, y }));
const onGrid = (xs: number[], ys: number[]) => ys.map((y, i) => ({ x: xs[i], y }));

interface FrameOpts {
  color: string; all: boolean;
  xMinor: number; xEvery: number; yMinor: number; yEvery: number;
  xMajorLen: number; xMinorLen: number; yMajorLen: number; yMinorLen: number;
}

function framePlugin(o: FrameOpts) {
  return {
    id: "frame",
    afterDatasetsDraw(chart: any) {
      const { ctx, chartArea: a, scales } = chart;
      const xs = scales.x, ys = scales.y;
      ctx.save();
      ctx.strokeStyle = o.color;
      ctx.lineWidth = 1;
      const L = Math.round(a.left) + 0.5, R = Math.round(a.right) - 0.5;
      const T = Math.round(a.top) + 0.5, B = Math.round(a.bottom) - 0.5;
      ctx.strokeRect(L, T, R - L, B - T);
      ctx.beginPath();
      const nx = Math.round((xs.max - xs.min) / o.xMinor);
      for (let i = 1; i < nx; i++) {
        const px = Math.round(xs.getPixelForValue(i * o.xMinor)) + 0.5;
        const len = i % o.xEvery === 0 ? o.xMajorLen : o.xMinorLen;
        ctx.moveTo(px, B); ctx.lineTo(px, B - len);
        if (o.all) { ctx.moveTo(px, T); ctx.lineTo(px, T + len); }
      }
      const ny = Math.round((ys.max - ys.min) / o.yMinor);
      for (let i = 1; i < ny; i++) {
        const py = Math.round(ys.getPixelForValue(i * o.yMinor)) + 0.5;
        const len = i % o.yEvery === 0 ? o.yMajorLen : o.yMinorLen;
        ctx.moveTo(L, py); ctx.lineTo(L + len, py);
        if (o.all) { ctx.moveTo(R, py); ctx.lineTo(R - len, py); }
      }
      ctx.stroke();
      ctx.restore();
    },
  };
}

const sLabelPlugin = {
  id: "slabels",
  afterDatasetsDraw(chart: any) {
    const { ctx, scales } = chart;
    const xs = scales.x, ys = scales.y;
    ctx.save();
    ctx.font = `bold 9.5px ${SANS}`;
    ctx.fillStyle = "#222";
    ctx.strokeStyle = "#555";
    ctx.lineWidth = 0.8;
    S_NAMES.forEach((name, i) => {
      const lx = xs.getPixelForValue(S_LABEL_T);
      const ly = ys.getPixelForValue(S_LABEL_V[i]);
      const ex = xs.getPixelForValue(S_LEADER_END[i][0]);
      const ey = ys.getPixelForValue(S_LEADER_END[i][1]);
      const w = ctx.measureText(name).width;
      ctx.textBaseline = "alphabetic";
      ctx.fillText(name, lx + 1.5, ly - 1.5);
      ctx.beginPath();
      ctx.moveTo(lx, ly); ctx.lineTo(lx + w + 3, ly);
      ctx.moveTo(lx, ly); ctx.lineTo(ex, ey);
      ctx.stroke();
    });
    ctx.restore();
  },
};

function baseOptions(yMax: number, yTicks: number[], yWidth: number, rightPad: number, labelPad: number, xPad: number) {
  const font = { family: SANS, size: 11.5 };
  return {
    animation: false,
    responsive: false,
    devicePixelRatio: 1,
    events: [],
    layout: { padding: { left: 0, top: 9, right: rightPad, bottom: 0 } },
    plugins: { legend: { display: false }, tooltip: { enabled: false }, title: { display: false } },
    elements: { point: { radius: 0 }, line: { tension: 0 } },
    scales: {
      x: {
        type: "linear", min: 0, max: 3,
        border: { display: false },
        grid: { display: false, drawTicks: false },
        afterBuildTicks: (s: any) => { s.ticks = X_TICKS.map((v) => ({ value: v })); },
        ticks: { autoSkip: false, maxRotation: 0, padding: xPad, color: "#222", font, callback: (v: any) => Number(v).toFixed(1) },
        afterFit: (s: any) => { s.height = 26; },
      },
      y: {
        type: "linear", min: 0, max: yMax,
        border: { display: false },
        grid: { display: false, drawTicks: false },
        afterBuildTicks: (s: any) => { s.ticks = yTicks.map((v) => ({ value: v })); },
        ticks: { autoSkip: false, padding: labelPad, color: "#222", font, callback: (v: any) => Number(v).toFixed(1) },
        afterFit: (s: any) => { s.width = yWidth; },
      },
    },
  };
}

function ampConfig(mean: Pt[], upper: Pt[], lower: Pt[], records: number[][], rightPad: number) {
  const datasets: any[] = [
    { data: fromPairs(mean), borderColor: "#000", borderWidth: 2.6 },
    { data: fromPairs(upper), borderColor: "#000", borderWidth: 2.4, borderDash: [6, 4] },
    { data: fromPairs(lower), borderColor: "#000", borderWidth: 2.4, borderDash: [6, 4] },
    ...records.map((r) => ({ data: onGrid(XG, r), borderColor: "#8a8a8a", borderWidth: 1.1 })),
  ];
  return {
    type: "line",
    data: { datasets },
    options: baseOptions(4.5, AA_TICKS, 36, rightPad, 4, 3),
    plugins: [framePlugin({ color: "#a0a0a0", all: false, xMinor: 0.1, xEvery: 5, yMinor: 0.1, yEvery: 5, xMajorLen: 6, xMinorLen: 3, yMajorLen: 6, yMinorLen: 3 })],
  };
}

function specConfig(mean: Pt[], upper: Pt[], lower: Pt[], records: number[][], colors: string[], dashed: boolean[] | null) {
  const datasets: any[] = [
    { data: onGrid(S3_T, S3_V), borderColor: "#e0161b", borderWidth: 3 },
    { data: onGrid(S2_T, S2_V), borderColor: "#1020d0", borderWidth: 3 },
    { data: onGrid(S1_T, S1_V), borderColor: "#000", borderWidth: 3 },
    { data: fromPairs(mean), borderColor: "#000", borderWidth: 2.4 },
    { data: fromPairs(upper), borderColor: "#000", borderWidth: 2.2, borderDash: [5, 3] },
    { data: fromPairs(lower), borderColor: "#000", borderWidth: 2.2, borderDash: [5, 3] },
    ...records.map((r, i) => ({
      data: onGrid(XR, r), borderColor: colors[i % colors.length], borderWidth: 1.1,
      borderDash: dashed && dashed[i] ? [3, 2] : [],
    })),
  ];
  return {
    type: "line",
    data: { datasets },
    options: baseOptions(6, PGA_TICKS, 46, 17, 5, 7),
    plugins: [
      framePlugin({ color: "#444", all: true, xMinor: 0.1, xEvery: 5, yMinor: 0.5, yEvery: 2, xMajorLen: 7, xMinorLen: 4, yMajorLen: 6, yMinorLen: 6 }),
      sLabelPlugin,
    ],
  };
}

function Panel({ left, top, width, height, make }: { left: number; top: number; width: number; height: number; make: () => any }) {
  const ref = useRef<HTMLCanvasElement | null>(null);
  useEffect(() => {
    if (!ref.current) return;
    const chart = new Chart(ref.current, make());
    return () => chart.destroy();
  }, []);
  return (
    <div style={{ position: "absolute", left, top, width, height }}>
      <canvas ref={ref} width={width} height={height} style={{ display: "block", width, height }} />
    </div>
  );
}

function Label({ x, y, text, size, bold, rotate, underline }: { x: number; y: number; text: string; size: number; bold?: boolean; rotate?: boolean; underline?: boolean }) {
  return (
    <div
      style={{
        position: "absolute", left: x, top: y, whiteSpace: "nowrap",
        transform: `translate(-50%, -50%)${rotate ? " rotate(-90deg)" : ""}`,
        fontFamily: SANS, fontSize: size, fontWeight: bold ? 700 : 400,
        textDecoration: underline ? "underline" : "none", color: "#111", lineHeight: 1, zIndex: 2,
      }}
    >
      {text}
    </div>
  );
}

function Line({ x, y, w, text, justify }: { x: number; y: number; w: number; text: string; justify: boolean }) {
  return (
    <div
      style={{
        position: "absolute", left: x, top: y - 12.5, width: w, height: 25, lineHeight: "25px",
        fontFamily: SANS, fontSize: 20, color: "#111",
        textAlign: justify ? "justify" : "left", textAlignLast: justify ? "justify" : "left",
      }}
    >
      {text}
    </div>
  );
}

export default function App() {
  return (
    <div style={{ position: "absolute", left: 0, top: 0, width: 960, height: 1493, background: "#fff", overflow: "hidden" }}>
      <Panel left={0} top={0} width={420} height={400} make={() => ampConfig(alphaMean, alphaUpper, alphaLower, alphaRecords, 16)} />
      <Panel left={0} top={400} width={410} height={393} make={() => ampConfig(betaMean, betaUpper, betaLower, betaRecords, 16)} />
      <Panel left={0} top={791} width={410} height={394} make={() => ampConfig(gammaMean, gammaUpper, gammaLower, gammaRecords, 16)} />
      <Panel left={520} top={0} width={420} height={391} make={() => specConfig(z1Mean, z1Upper, z1Lower, z1Records, z1Colors, z1Dashed)} />
      <Panel left={520} top={395} width={420} height={391} make={() => specConfig(z2Mean, z2Upper, z2Lower, z2Records, z2Colors, null)} />
      <Panel left={520} top={797} width={420} height={392} make={() => specConfig(z3Mean, z3Upper, z3Lower, z3Records, z3Colors, null)} />

      <Label x={373} y={35} text="(α)" size={22} bold />
      <Label x={355} y={445} text="(β)" size={22} bold />
      <Label x={355} y={837} text="(γ)" size={22} bold />
      <Label x={885} y={28} text="Ζώνη Ι" size={14.5} bold underline />
      <Label x={889} y={423} text="Ζώνη ΙΙ" size={14.5} bold underline />
      <Label x={886} y={824} text="Ζώνη ΙΙΙ" size={14.5} bold underline />

      <Label x={8} y={190} text="Aa" size={11} bold rotate />
      <Label x={8} y={587} text="Aa" size={11} bold rotate />
      <Label x={8} y={978} text="Aa" size={11} bold rotate />
      <Label x={523} y={187} text="PGA/PHGA" size={13} rotate />
      <Label x={523} y={582} text="PGA/PHGA" size={13} rotate />
      <Label x={523} y={984} text="PGA/PHGA" size={13} rotate />

      <Label x={220} y={396} text="Περίοδος (sec)" size={12} />
      <Label x={215} y={787} text="Περίοδος (sec)" size={12} />
      <Label x={215} y={1181} text="Περίοδος (sec)" size={12} />
      <Label x={744} y={390} text="Περίοδος, T(sec)" size={12.5} />
      <Label x={744} y={786} text="Περίοδος, T(sec)" size={12.5} />
      <Label x={744} y={1189} text="Περίοδος, T(sec)" size={12.5} />

      {LEFT_LINES.map(([t, j], i) => (
        <Line key={"l" + i} x={3} y={1201 + i * 25} w={442} text={t} justify={j} />
      ))}
      {RIGHT_LINES.map(([t, j, y], i) => (
        <Line key={"r" + i} x={516} y={y} w={442} text={t} justify={j} />
      ))}

      <div style={{ position: "absolute", left: 32, top: 1473, fontFamily: '"Liberation Serif", "Times New Roman", serif', fontStyle: "italic", fontSize: 15.9, lineHeight: "20px", color: "#111", whiteSpace: "nowrap" }}>
        5ο Πανελλήνιο Συνέδριο Γεωτεχνικής &amp; Γεωπεριβαλλοντικής Μηχανικής, ΤΕΕ, Ξάνθη, 31/5-2/6/2006
      </div>
      <div style={{ position: "absolute", left: 916, top: 1473, fontFamily: '"Liberation Serif", "Times New Roman", serif', fontStyle: "italic", fontSize: 16, lineHeight: "20px", color: "#111" }}>
        7
      </div>
    </div>
  );
}
